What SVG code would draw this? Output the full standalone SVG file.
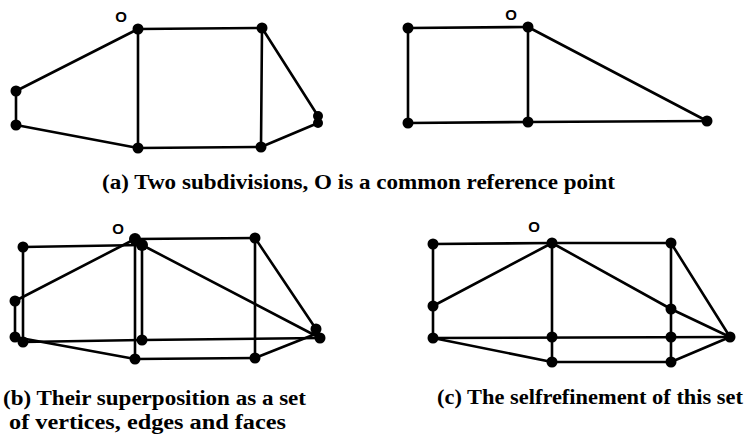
<svg xmlns="http://www.w3.org/2000/svg" width="752" height="439" viewBox="0 0 752 439">
<style>
.e{stroke:#000;stroke-width:2.6;stroke-linecap:round;fill:none}
.v{fill:#000}
.o{font-family:"Liberation Sans","DejaVu Sans",sans-serif;font-weight:bold;font-size:15px;fill:#000}
.cap{font-family:"Liberation Serif","DejaVu Serif",serif;font-weight:bold;font-size:20px;fill:#000}
</style>
<rect width="752" height="439" fill="#fff"/>
<g id="connectors">
  <g id="edges-a1">
    <line class="e" x1="138" y1="29" x2="262" y2="28"/>
    <line class="e" x1="138" y1="29" x2="138" y2="148"/>
    <line class="e" x1="262" y1="28" x2="261" y2="147"/>
    <line class="e" x1="138" y1="29" x2="16" y2="91"/>
    <line class="e" x1="16" y1="91" x2="16" y2="125"/>
    <line class="e" x1="16" y1="125" x2="138" y2="148"/>
    <line class="e" x1="138" y1="148" x2="261" y2="147"/>
    <line class="e" x1="262" y1="28" x2="318" y2="116"/>
    <line class="e" x1="261" y1="147" x2="318" y2="123"/>
  </g>
  <g id="edges-a2">
    <line class="e" x1="408" y1="28" x2="528" y2="27"/>
    <line class="e" x1="408" y1="28" x2="408" y2="123"/>
    <line class="e" x1="408" y1="123" x2="528" y2="122"/>
    <line class="e" x1="528" y1="27" x2="528" y2="122"/>
    <line class="e" x1="528" y1="27" x2="707" y2="121"/>
    <line class="e" x1="528" y1="122" x2="707" y2="121"/>
  </g>
  <g id="edges-b">
    <line class="e" x1="135" y1="239" x2="255" y2="238"/>
    <line class="e" x1="135" y1="239" x2="135" y2="359"/>
    <line class="e" x1="255" y1="238" x2="255" y2="358"/>
    <line class="e" x1="135" y1="239" x2="15" y2="301"/>
    <line class="e" x1="15" y1="301" x2="15" y2="337"/>
    <line class="e" x1="15" y1="337" x2="135" y2="359"/>
    <line class="e" x1="135" y1="359" x2="255" y2="358"/>
    <line class="e" x1="255" y1="238" x2="316" y2="329"/>
    <line class="e" x1="255" y1="358" x2="318" y2="333"/>
    <line class="e" x1="23" y1="247" x2="142" y2="245"/>
    <line class="e" x1="23" y1="247" x2="23" y2="342"/>
    <line class="e" x1="23" y1="342" x2="142" y2="340"/>
    <line class="e" x1="142" y1="245" x2="142" y2="340"/>
    <line class="e" x1="142" y1="245" x2="320" y2="338"/>
    <line class="e" x1="142" y1="340" x2="320" y2="338"/>
  </g>
  <g id="edges-c">
    <line class="e" x1="433" y1="244" x2="552" y2="243"/>
    <line class="e" x1="552" y1="243" x2="671" y2="243"/>
    <line class="e" x1="433" y1="244" x2="433" y2="338"/>
    <line class="e" x1="433" y1="306" x2="552" y2="243"/>
    <line class="e" x1="552" y1="243" x2="552" y2="362"/>
    <line class="e" x1="552" y1="243" x2="671" y2="309"/>
    <line class="e" x1="671" y1="309" x2="730" y2="337"/>
    <line class="e" x1="671" y1="243" x2="671" y2="362"/>
    <line class="e" x1="671" y1="243" x2="730" y2="337"/>
    <line class="e" x1="433" y1="338" x2="730" y2="337"/>
    <line class="e" x1="433" y1="338" x2="552" y2="362"/>
    <line class="e" x1="552" y1="362" x2="671" y2="362"/>
    <line class="e" x1="671" y1="362" x2="730" y2="337"/>
  </g>
</g>
<g id="a1-O"><circle class="v" cx="138" cy="29" r="5.5"/></g>
<g id="a1-tr"><circle class="v" cx="262" cy="28" r="5.5"/></g>
<g id="a1-lu"><circle class="v" cx="16" cy="91" r="5.5"/></g>
<g id="a1-ll"><circle class="v" cx="16" cy="125" r="5.5"/></g>
<g id="a1-bl"><circle class="v" cx="138" cy="148" r="5.5"/></g>
<g id="a1-br"><circle class="v" cx="261" cy="147" r="5.5"/></g>
<g id="a1-r"><circle class="v" cx="318" cy="116" r="5"/><circle class="v" cx="318" cy="123" r="5"/></g>
<g id="a2-tl"><circle class="v" cx="408" cy="28" r="5.5"/></g>
<g id="a2-O"><circle class="v" cx="528" cy="27" r="5.5"/></g>
<g id="a2-bl"><circle class="v" cx="408" cy="123" r="5.5"/></g>
<g id="a2-bm"><circle class="v" cx="528" cy="122" r="5.5"/></g>
<g id="a2-r"><circle class="v" cx="707" cy="121" r="5.5"/></g>
<g id="b-tl"><circle class="v" cx="23" cy="247" r="5.5"/></g>
<g id="b-O"><circle class="v" cx="135" cy="239" r="6"/><circle class="v" cx="142" cy="245" r="6"/></g>
<g id="b-tr"><circle class="v" cx="255" cy="238" r="5.5"/></g>
<g id="b-lm"><circle class="v" cx="15" cy="301" r="5.5"/></g>
<g id="b-ll"><circle class="v" cx="15" cy="337" r="5.5"/><circle class="v" cx="23" cy="342" r="5.5"/></g>
<g id="b-mm"><circle class="v" cx="142" cy="340" r="5.5"/></g>
<g id="b-bm"><circle class="v" cx="135" cy="359" r="5.5"/></g>
<g id="b-br"><circle class="v" cx="255" cy="358" r="5.5"/></g>
<g id="b-r"><circle class="v" cx="316" cy="329" r="5.5"/><circle class="v" cx="320" cy="338" r="5.5"/></g>
<g id="c-tl"><circle class="v" cx="433" cy="244" r="5.5"/></g>
<g id="c-O"><circle class="v" cx="552" cy="243" r="5.5"/></g>
<g id="c-tr"><circle class="v" cx="671" cy="243" r="5.5"/></g>
<g id="c-lm"><circle class="v" cx="433" cy="306" r="5.5"/></g>
<g id="c-ll"><circle class="v" cx="433" cy="338" r="5.5"/></g>
<g id="c-mm"><circle class="v" cx="552" cy="337" r="5.5"/></g>
<g id="c-mb"><circle class="v" cx="552" cy="362" r="5.5"/></g>
<g id="c-ru"><circle class="v" cx="671" cy="309" r="5.5"/></g>
<g id="c-rm"><circle class="v" cx="671" cy="337" r="5.5"/></g>
<g id="c-rb"><circle class="v" cx="671" cy="362" r="5.5"/></g>
<g id="c-r"><circle class="v" cx="730" cy="337" r="5.5"/></g>
<text class="o" x="121" y="22" text-anchor="middle">O</text>
<text class="o" x="511" y="20" text-anchor="middle">O</text>
<text class="o" x="118" y="234" text-anchor="middle">O</text>
<text class="o" x="534" y="232" text-anchor="middle">O</text>
<text class="cap" x="102" y="189" textLength="513" lengthAdjust="spacingAndGlyphs">(a) Two subdivisions, O is a common reference point</text>
<text class="cap" x="3" y="405" textLength="303" lengthAdjust="spacingAndGlyphs">(b) Their superposition as a set</text>
<text class="cap" x="9" y="429" textLength="277" lengthAdjust="spacingAndGlyphs">of vertices, edges and faces</text>
<text class="cap" x="437" y="404" textLength="306" lengthAdjust="spacingAndGlyphs">(c) The selfrefinement of this set</text>
</svg>
